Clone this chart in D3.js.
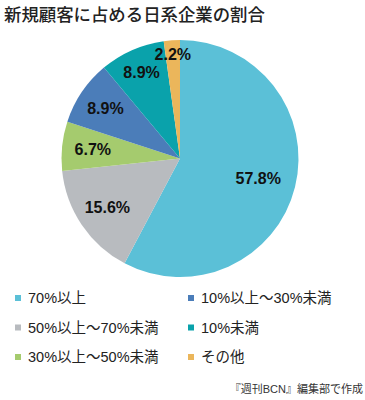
<!DOCTYPE html>
<html><head><meta charset="utf-8">
<script src="https://cdn.jsdelivr.net/npm/d3@7"></script>
<style>body{margin:0;background:#fff}svg{display:block}</style>
</head><body>
<script>
const categories = ["70%以上","50%以上～70%未満","30%以上～50%未満","10%以上～30%未満","10%未満","その他"];
const values = [57.8, 15.6, 6.7, 8.9, 8.9, 2.2];
const valueLabels = ["57.8%","15.6%","6.7%","8.9%","8.9%","2.2%"];
const colors = ["#5bc0d7","#b8bbbf","#a5cb6e","#4b7db9","#0aa2ab","#ebb65b"];
const legendOrder = [0,3,1,4,2,5];
const title = "新規顧客に占める日系企業の割合";
const source = "『週刊BCN』編集部で作成";

const W=365,H=400, cx=180, cy=158.5, R=118.5;
const labelR = [0.68,0.74,0.74,0.76,0.8,0.88];
const svg=d3.select("body").append("svg").attr("width",W).attr("height",H);
const latin = "'Liberation Sans','Noto Sans CJK JP',sans-serif";
svg.append("text").attr("x",4).attr("y",21).text(title)
  .attr("font-family","'Noto Sans CJK JP',sans-serif").attr("font-weight",500)
  .attr("font-size",17.4).attr("fill","#222");

const pie=d3.pie().sort(null).value(d=>d)(values);
const arc=d3.arc().innerRadius(0).outerRadius(R);
const g=svg.append("g").attr("transform",`translate(${cx},${cy})`);
g.selectAll("path").data(pie).join("path").attr("d",arc).attr("fill",(d,i)=>colors[i]);
g.selectAll("text").data(pie).join("text")
  .attr("transform",(d,i)=>{const a=d3.arc().innerRadius(R*labelR[i]).outerRadius(R*labelR[i]);const c=a.centroid(d);return `translate(${c[0]},${c[1]})`;})
  .attr("text-anchor","middle").attr("dy","0.36em")
  .attr("font-family",latin).attr("font-weight","bold").attr("font-size",16).attr("fill","#111")
  .text((d,i)=>valueLabels[i]);

const lg=svg.append("g");
legendOrder.forEach((ci,k)=>{
  const col=k%2, row=Math.floor(k/2);
  const x= col===0?15:188, y=298+row*29.5;
  lg.append("rect").attr("x",x).attr("y",y-3).attr("width",6).attr("height",6).attr("fill",colors[ci]);
  lg.append("text").attr("x",x+13).attr("y",y).attr("dy","0.36em").text(categories[ci])
    .attr("font-family",latin).attr("font-size",14.5).attr("fill","#222");
});
svg.append("text").attr("x",363).attr("y",393).attr("text-anchor","end").text(source)
  .attr("font-family",latin).attr("font-size",11).attr("fill","#333");
</script>
</body></html>
